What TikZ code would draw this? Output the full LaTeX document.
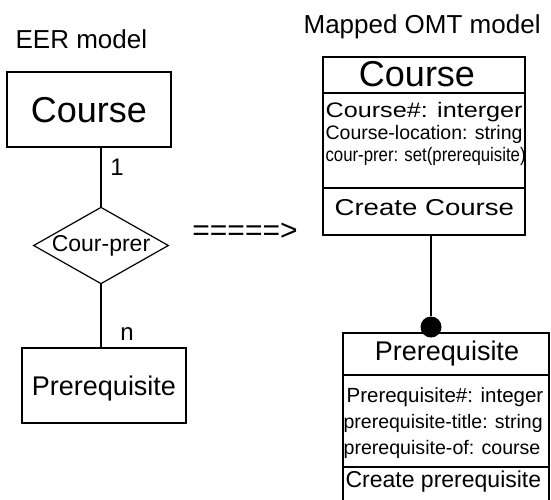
\documentclass[tikz,border=0pt]{standalone}
\usepackage{fontspec}
\setmainfont{Liberation Sans}
\newfontfamily\wideface[FakeStretch=1.2]{Liberation Sans}
\newfontfamily\slimface[FakeStretch=0.86]{Liberation Sans}
\usetikzlibrary{shapes.geometric}
\newcommand{\fsz}[1]{\fontsize{#1}{#1}\selectfont}
\tikzset{
  entity/.style={draw, line width=1.2pt, inner sep=0pt, text depth=0pt},
  relation/.style={draw, diamond, line width=1.2pt, inner sep=0pt, aspect=1.76,
    minimum width=132pt, minimum height=75pt},
  txt/.style={inner sep=0pt},
  attr/.style={inner sep=0pt, anchor=base west},
}

\begin{document}
\begin{tikzpicture}[x=1pt,y=-1pt,line width=1.2pt]
\useasboundingbox (0,0) rectangle (551,499);

\node[txt, anchor=base west, font=\fsz{26}] (eerlabel) at (15,48) {EER model};
\node[txt, anchor=base west, font=\fsz{26}] (omtlabel) at (303,33) {Mapped OMT model};

\node[entity, minimum width=164pt, minimum height=75pt, font=\fsz{36}] (ecourse) at (89,109.5) {Course};
\node[relation, font=\fsz{23}] (courprer) at (101,245.5) {Cour-prer};
\node[entity, minimum width=164pt, minimum height=75pt, font=\fsz{27}] (eprereq) at (104,385.5) {Prerequisite};
\draw (courprer.north) -- (courprer.north |- ecourse.south);
\draw (courprer.south) -- (courprer.south |- eprereq.north);
\node[txt, anchor=base, font=\fsz{24}] (one) at (117,175) {1};
\node[txt, anchor=base, font=\fsz{24}] (many) at (127,340) {n};

\node[txt, font=\fsz{30}] (maps) at (245,232) {=====>};

\node[entity, minimum width=202pt, minimum height=178pt] (ocourse) at (424,146) {};
\draw (ocourse.west |- 0,93) -- (ocourse.east |- 0,93);
\draw (ocourse.west |- 0,188) -- (ocourse.east |- 0,188);
\node[txt, font=\fsz{36}] (ocoursename) at (417,74) {Course};
\node[attr, font=\wideface\fsz{21}] (attr1) at (325,117) {Course\#: interger};
\node[attr, font=\fsz{19.5}] (attr2) at (325,139) {Course-location: string};
\node[attr, font=\slimface\fsz{19.5}] (attr3) at (325,161) {cour-prer: set(prerequisite)};
\node[attr, font=\wideface\fsz{23}] (op1) at (334,215) {Create Course};

\draw (343,520) -- (343,333) -- (549,333) -- (549,520);
\draw (343,375) -- (549,375);
\draw (343,467) -- (549,467);
\node[txt, anchor=base, font=\fsz{27}] (oprereqname) at (447,360) {Prerequisite};
\node[attr, font=\fsz{20.5}] (attr4) at (346,402) {Prerequisite\#: integer};
\node[attr, font=\fsz{19.5}] (attr5) at (343,428) {prerequisite-title: string};
\node[attr, font=\fsz{19.6}] (attr6) at (343,454) {prerequisite-of: course};
\node[attr, font=\fsz{23}] (op2) at (345,487) {Create prerequisite};

\node[circle, fill, minimum size=21pt, inner sep=0pt] (agg) at (431,327) {};
\draw (agg |- ocourse.south) -- (agg);
\end{tikzpicture}
\end{document}
